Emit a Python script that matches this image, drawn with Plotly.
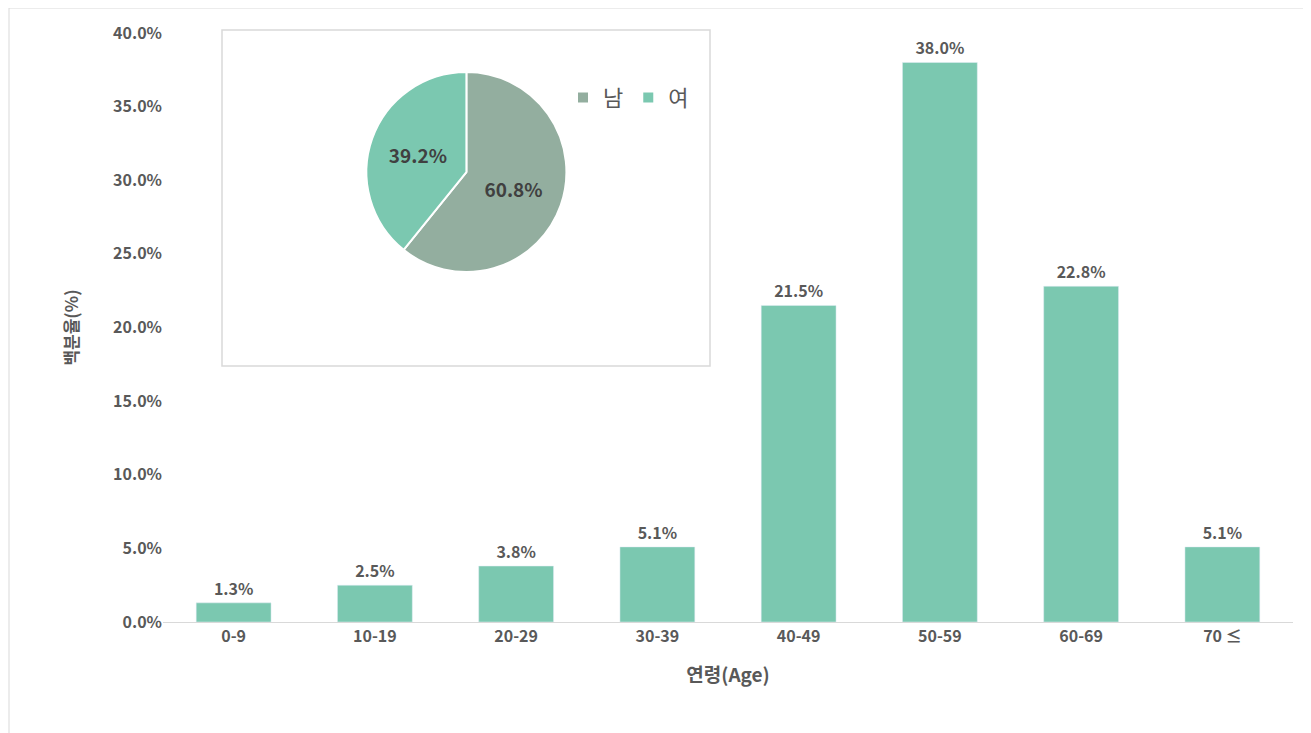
import plotly.graph_objects as go

# age distribution
ages = ["0-9", "10-19", "20-29", "30-39", "40-49", "50-59", "60-69", "70 ≤"]
pct = [1.3, 2.5, 3.8, 5.1, 21.5, 38.0, 22.8, 5.1]

# sex ratio (inset pie)
sex = ["남", "여"]
sex_pct = [60.8, 39.2]

txt = "#595959"
fnt = "Noto Sans CJK KR"

fig = go.Figure()
fig.add_trace(go.Bar(
    x=ages, y=pct, marker_color="#7BC8B0",
    text=[f"<b>{v:.1f}%</b>" for v in pct], textposition="outside",
    textfont=dict(size=16, color=txt), cliponaxis=False, showlegend=False))
fig.add_trace(go.Pie(
    labels=sex, values=sex_pct, sort=False, direction="clockwise", rotation=0,
    marker=dict(colors=["#93AE9F", "#7BC8B0"], line=dict(color="white", width=2)),
    texttemplate="<b>%{value:.1f}%</b>", textposition="inside",
    textfont=dict(size=19, color="#404040"),
    domain=dict(x=[0.18, 0.357], y=[0.594, 0.934])))

W, H = 1130, 589
fig.update_layout(
    width=1311, height=733,
    margin=dict(l=155, r=26, t=25, b=119),
    plot_bgcolor="white", paper_bgcolor="white",
    font=dict(family=fnt, color=txt),
    bargap=0.47,
    legend=dict(orientation="h", x=0.354, y=0.89, yanchor="middle",
                font=dict(size=22, color=txt), itemwidth=30),
    xaxis=dict(showline=True, linecolor="#D9D9D9", ticks="",
               tickfont=dict(size=16, family=fnt, color=txt),
               title=dict(text="<b>연령(Age)</b>", font=dict(size=19), standoff=22)),
    yaxis=dict(range=[0, 40], dtick=5, ticksuffix="%", tickformat=".1f",
               showgrid=False, zeroline=False,
               tickfont=dict(size=16, color=txt),
               title=dict(text="<b>백분율(%)</b>", font=dict(size=17), standoff=30)),
    shapes=[
        dict(type="rect", xref="paper", yref="paper",
             x0=59 / W, x1=547 / W, y0=256 / H, y1=592 / H,
             line=dict(color="#D9D9D9", width=1.5), fillcolor="rgba(0,0,0,0)"),
        dict(type="rect", xref="paper", yref="paper",
             x0=-154 / W, x1=1155 / W, y0=-118 / H, y1=614 / H,
             line=dict(color="#D9D9D9", width=1)),
    ],
)
fig.update_yaxes(tickvals=[0, 5, 10, 15, 20, 25, 30, 35, 40],
                 ticktext=[f"<b>{v:.1f}%</b>" for v in range(0, 45, 5)])
fig.update_xaxes(tickvals=ages, ticktext=[f"<b>{a}</b>" for a in ages])
fig.write_html("out.html")
